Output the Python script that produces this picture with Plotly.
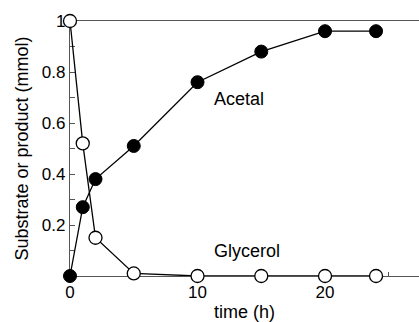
import plotly.graph_objects as go

time_h = [0, 1, 2, 5, 10, 15, 20, 24]
acetal = [0.0, 0.27, 0.38, 0.51, 0.76, 0.88, 0.96, 0.96]
glycerol = [1.0, 0.52, 0.15, 0.01, 0.0, 0.0, 0.0, 0.0]

fig = go.Figure()
fig.add_trace(go.Scatter(
    x=time_h, y=glycerol, mode="lines+markers", cliponaxis=False,
    line=dict(color="black", width=1.3),
    marker=dict(symbol="circle", size=13, color="white", line=dict(color="black", width=1.3)),
    showlegend=False))
fig.add_trace(go.Scatter(
    x=time_h, y=acetal, mode="lines+markers", cliponaxis=False,
    line=dict(color="black", width=1.3),
    marker=dict(symbol="circle", size=13, color="black", line=dict(color="black", width=1)),
    showlegend=False))

font = dict(family="Liberation Sans, Arial, sans-serif", size=18, color="black")
tickfont = dict(family="Liberation Sans, Arial, sans-serif", size=17, color="black")
fig.add_annotation(x=11.1, y=0.693, text="Acetal", showarrow=False, xanchor="left", yanchor="middle", font=font)
fig.add_annotation(x=11.1, y=0.1, text="Glycerol", showarrow=False, xanchor="left", yanchor="middle", font=font)

fig.update_layout(
    width=419, height=322,
    margin=dict(l=70, r=0, t=21, b=46),
    paper_bgcolor="white", plot_bgcolor="white",
    font=font,
    xaxis=dict(range=[0, 27.37], showgrid=False, zeroline=False, layer="below traces",
               showline=True, mirror=True, linecolor="#555", linewidth=1.2,
               tickvals=[0, 10, 20], ticks="inside", ticklen=4, tickcolor="#555",
               minor=dict(tickvals=[5, 15, 25], ticks="inside", ticklen=4, tickcolor="#555"),
               title=dict(text="time (h)", standoff=7, font=font), tickfont=tickfont),
    yaxis=dict(range=[0, 1], showgrid=False, zeroline=False, layer="below traces",
               showline=True, linecolor="#555", linewidth=1.2,
               tickvals=[0.2, 0.4, 0.6, 0.8, 1.0], ticktext=["0.2", "0.4", "0.6", "0.8", "1"],
               ticks="inside", ticklen=5, tickcolor="#555",
               minor=dict(tickvals=[0.1, 0.3, 0.5, 0.7, 0.9], ticks="inside", ticklen=5, tickcolor="#555"),
               title=dict(text="Substrate or product (mmol)", standoff=8, font=font), tickfont=tickfont),
)
fig.write_html("out.html")
